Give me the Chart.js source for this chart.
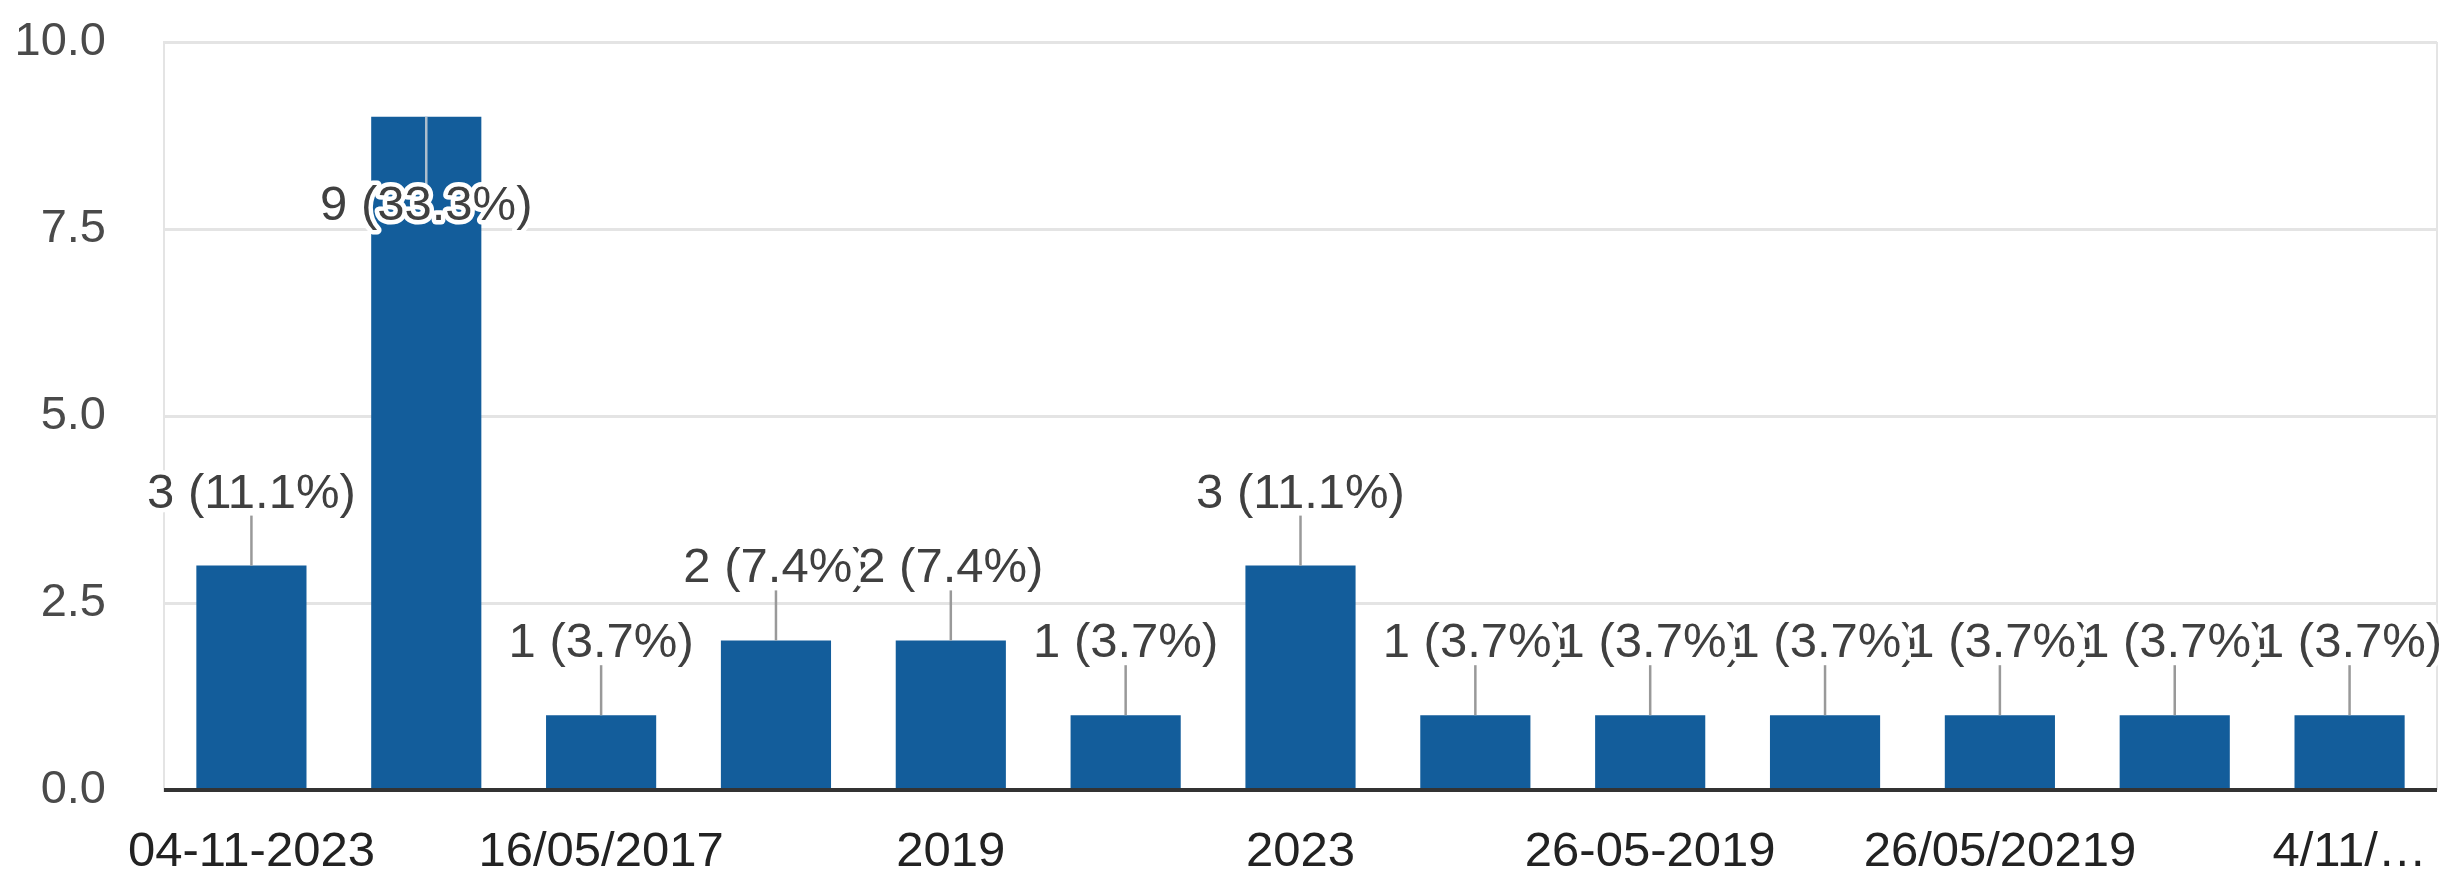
<!DOCTYPE html>
<html>
<head>
<meta charset="utf-8">
<style>
  html, body { margin: 0; padding: 0; background: #ffffff; }
  #wrap { width: 2455px; height: 883px; }
</style>
<script src="https://cdn.jsdelivr.net/npm/chart.js@4/dist/chart.umd.min.js"></script>
</head>
<body>
<div id="wrap"><canvas id="c" width="2455" height="883"></canvas></div>
<script>
// ---- data ----
const categories = ['04-11-2023', '', '16/05/2017', '', '2019', '', '2023', '', '26-05-2019', '', '26/05/20219', '', '4/11/\u2026'];
const counts = [3, 9, 1, 2, 2, 1, 3, 1, 1, 1, 1, 1, 1];
const yTicks = [0, 2.5, 5, 7.5, 10];

const total = counts.reduce((a, b) => a + b, 0);
const FONT = '"Liberation Sans", Arial, sans-serif';

const annotationPlugin = {
  id: 'annotations',
  afterDatasetsDraw(chart) {
    const ctx = chart.ctx;
    const meta = chart.getDatasetMeta(0);
    const area = chart.chartArea;
    ctx.save();
    // right border of plot
    ctx.strokeStyle = '#e4e4e4';
    ctx.lineWidth = 2;
    ctx.beginPath();
    ctx.moveTo(area.right, area.top);
    ctx.lineTo(area.right, area.bottom);
    ctx.stroke();
    // zero baseline on top of bars
    const y0 = chart.scales.y.getPixelForValue(0);
    ctx.strokeStyle = '#333333';
    ctx.lineWidth = 4;
    ctx.beginPath();
    ctx.moveTo(area.left, y0);
    ctx.lineTo(area.right, y0);
    ctx.stroke();

    ctx.font = '49px ' + FONT;
    ctx.textAlign = 'center';
    ctx.textBaseline = 'alphabetic';
    ctx.lineJoin = 'round';
    meta.data.forEach((bar, i) => {
      const v = counts[i];
      const text = v + ' (' + (v / total * 100).toFixed(1) + '%)';
      const top = bar.y;
      const inside = top - 95 < area.top;
      let baseline;
      ctx.lineWidth = 2.5;
      ctx.beginPath();
      if (inside) {
        ctx.strokeStyle = 'rgba(190,200,210,0.9)';
        ctx.moveTo(bar.x, top);
        ctx.lineTo(bar.x, top + 68);
        baseline = top + 103;
      } else {
        ctx.strokeStyle = '#999999';
        ctx.moveTo(bar.x, top);
        ctx.lineTo(bar.x, top - 50);
        baseline = top - 58;
      }
      ctx.stroke();
      ctx.strokeStyle = '#ffffff';
      ctx.lineWidth = 9;
      ctx.strokeText(text, bar.x, baseline);
      ctx.fillStyle = '#404040';
      ctx.fillText(text, bar.x, baseline);
    });
    ctx.restore();
  }
};

new Chart(document.getElementById('c'), {
  type: 'bar',
  data: {
    labels: categories,
    datasets: [{
      data: counts,
      backgroundColor: '#135d9b',
      borderWidth: 0,
      categoryPercentage: 1.0,
      barPercentage: 0.63
    }]
  },
  options: {
    responsive: false,
    animation: false,
    devicePixelRatio: 1,
    layout: { padding: { left: 0, right: 18, top: 0, bottom: 0 } },
    plugins: { legend: { display: false }, tooltip: { enabled: false } },
    scales: {
      x: {
        grid: { display: false },
        border: { display: false },
        afterFit(s) { s.height = 93; },
        ticks: {
          autoSkip: false,
          maxRotation: 0,
          minRotation: 0,
          padding: 25,
          color: '#222222',
          font: { family: FONT, size: 49 }
        }
      },
      y: {
        min: 0,
        max: 10,
        afterFit(s) { s.width = 164; s.paddingTop = 42; },
        afterBuildTicks(s) { s.ticks = yTicks.map(v => ({ value: v })); },
        border: { display: true, color: '#e4e4e4', width: 2 },
        grid: {
          drawTicks: false,
          color: (c) => c.tick && c.tick.value === 0 ? '#333333' : '#e4e4e4',
          lineWidth: (c) => c.tick && c.tick.value === 0 ? 4 : 3
        },
        ticks: {
          padding: 58,
          color: '#4a4a4a',
          font: { family: FONT, size: 47 },
          callback: (v) => Number(v).toFixed(1)
        }
      }
    }
  },
  plugins: [annotationPlugin]
});
</script>
</body>
</html>
